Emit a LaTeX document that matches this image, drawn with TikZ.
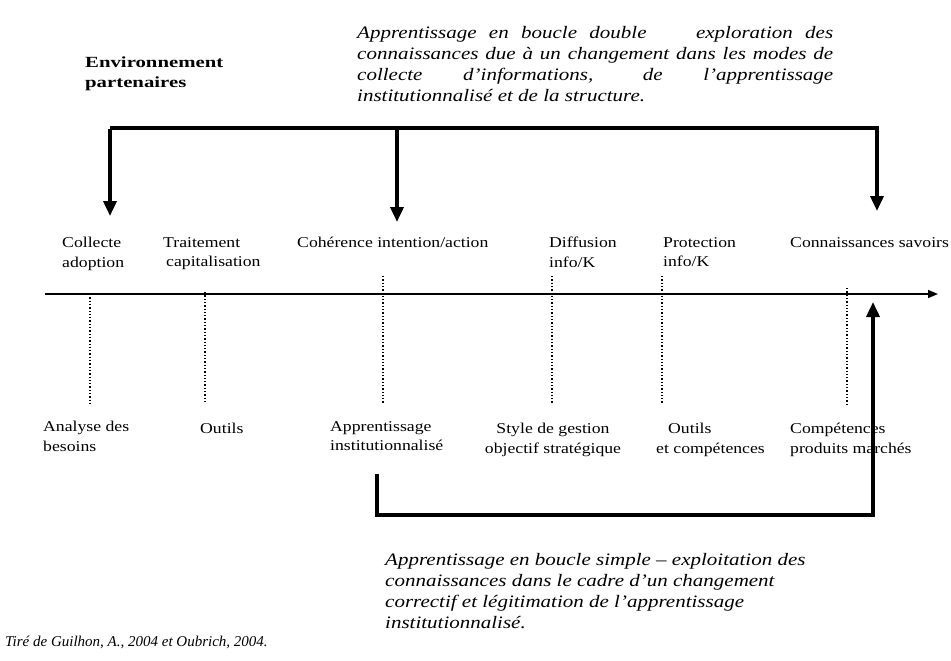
\documentclass[tikz,border=0pt]{standalone}
\usepackage{fontspec}
\setmainfont{Liberation Serif}
\newfontfamily\labelserif[Ligatures=TeX,FakeStretch=1.18]{Liberation Serif}
\newfontfamily\wideserif[Ligatures=TeX,FakeStretch=1.2]{Liberation Serif}
\newfontfamily\widerserif[Ligatures=TeX,FakeStretch=1.34]{Liberation Serif}
\usetikzlibrary{arrows.meta}
\begin{document}
\begin{tikzpicture}[x=1pt,y=-1pt,
  lbl/.style={inner sep=0pt,font=\labelserif\fontsize{15}{19.5}\selectfont},
  lblL/.style={lbl,anchor=north west,align=left},
  lblC/.style={lbl,anchor=north,align=center},
  note/.style={inner sep=0pt,anchor=north west,font=\wideserif\fontsize{17.5}{21}\selectfont\itshape},
  loop/.style={line width=3.6pt,-{Triangle[length=15pt,width=13pt]}},
  axis/.style={line width=1.6pt,-{Triangle[length=10pt,width=8pt]}},
  tick/.style={line width=1.3pt,dotted}
]
\useasboundingbox (0,0) rectangle (951,661);

% header texts
\node[inner sep=0pt,anchor=north west,align=left,
      font=\widerserif\fontsize{15.5}{20}\selectfont\bfseries] (env) at (85,57)
  {Environnement\\partenaires};
\node[note,text width=476pt,align=justify] (double) at (357,26)
  {Apprentissage en boucle double \ \ \ exploration des\linebreak
   connaissances due à un changement dans les modes de\linebreak
   collecte d'informations, de l'apprentissage\linebreak
   institutionnalisé et de la structure.};

% stages above the axis
\node[lblL] (collecte) at (62,237) {Collecte\\adoption};
\node[lblL] (traitement) at (163,237) {Traitement\\\hspace*{3pt}capitalisation};
\node[lblL] (coherence) at (297,237) {Cohérence intention/action};
\node[lblL] (diffusion) at (549,237) {Diffusion\\info/K};
\node[lblL] (protection) at (663,237) {Protection\\info/K};
\node[lblL] (savoirs) at (790,237) {Connaissances savoirs};

% time axis
\coordinate (ax0) at (45,294);
\coordinate (ax1) at (938,294);
\draw[axis] (ax0) -- (ax1);

% supports below the axis
\node[lblL] (analyse) at (43,421) {Analyse des\\besoins};
\node[lblL] (outilsA) at (200,423) {Outils};
\node[lblL] (institution) at (330,421) {Apprentissage\\institutionnalisé};
\node[lblC] (style) at (553,423) {Style de gestion\\objectif stratégique};
\node[lblL] (outilsB) at (656,423) {\hspace*{12pt}Outils\\et compétences};
\node[lblL] (competences) at (790,423) {Compétences\\produits marchés};

% dotted links between stages and supports
\draw[tick] (90,294) -- (90,404);
\draw[tick] (205,292) -- (205,404);
\draw[tick] (383,276) -- (383,404);
\draw[tick] (552,276) -- (552,404);
\draw[tick] (662,276) -- (662,404);
\draw[tick] (847,288) -- (847,404);

% double loop (top)
\coordinate (tl) at (110,128);
\coordinate (tm) at (397,128);
\coordinate (tr) at (877,128);
\coordinate (aL) at (110,216);
\coordinate (aM) at (397,222);
\coordinate (aR) at (877,211);
\draw[loop,line join=miter] (tl) -- (tr) -- (aR);
\draw[loop] ([yshift=-1pt]tl) -- (aL);
\draw[loop] (tm) -- (aM);

% simple loop (bottom)
\coordinate (bl) at (377,515);
\coordinate (br) at (873,515);
\coordinate (aB) at (873,302);
\draw[loop,line join=miter] (377,474) -- (bl) -- (br) -- (aB);

% bottom texts
\node[note,align=left] (simple) at (385,553)
  {Apprentissage en boucle simple -- exploitation des\\
   connaissances dans le cadre d'un changement\\
   correctif et légitimation de l'apprentissage\\
   institutionnalisé.};
\node[inner sep=0pt,anchor=north west,font=\fontsize{15}{19}\selectfont\itshape] (source) at (5,636)
  {Tiré de Guilhon, A., 2004 et Oubrich, 2004.};
\end{tikzpicture}
\end{document}
